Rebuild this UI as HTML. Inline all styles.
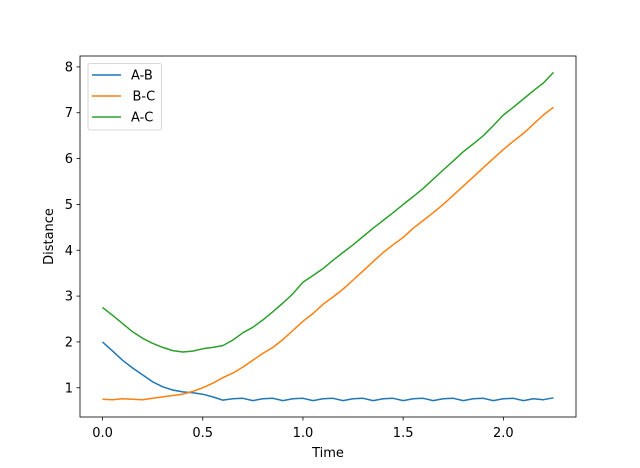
<!DOCTYPE html>
<html><head><meta charset="utf-8"><style>
body{margin:0;background:#fff;}
svg{display:block;font-family:"DejaVu Sans","Liberation Sans",sans-serif;}
</style></head><body>
<svg id="c" width="640" height="468"></svg>
<script>
const times=[0,0.05,0.1,0.15,0.2,0.25,0.3,0.35,0.4,0.45,0.5,0.55,0.6,0.65,0.7,0.75,0.8,0.85,0.9,0.95,1.0,1.05,1.1,1.15,1.2,1.25,1.3,1.35,1.4,1.45,1.5,1.55,1.6,1.65,1.7,1.75,1.8,1.85,1.9,1.95,2.0,2.05,2.1,2.15,2.2,2.25];
const abVals=[2.0,1.8,1.6,1.43,1.28,1.13,1.02,0.95,0.91,0.89,0.86,0.8,0.73,0.76,0.77,0.72,0.76,0.77,0.72,0.76,0.77,0.72,0.76,0.77,0.72,0.76,0.77,0.72,0.76,0.77,0.72,0.76,0.77,0.72,0.76,0.77,0.72,0.76,0.77,0.72,0.76,0.77,0.72,0.76,0.74,0.78];
const bcVals=[0.75,0.74,0.76,0.75,0.74,0.77,0.8,0.83,0.86,0.92,1.0,1.1,1.22,1.32,1.45,1.6,1.75,1.88,2.05,2.25,2.45,2.62,2.82,2.98,3.15,3.35,3.55,3.75,3.95,4.12,4.28,4.48,4.65,4.82,5.0,5.2,5.4,5.6,5.8,6.0,6.2,6.38,6.55,6.75,6.95,7.12];
const acVals=[2.75,2.58,2.4,2.22,2.08,1.97,1.88,1.81,1.78,1.8,1.85,1.88,1.92,2.04,2.2,2.32,2.48,2.66,2.85,3.05,3.3,3.45,3.6,3.78,3.95,4.12,4.3,4.48,4.65,4.82,5.0,5.17,5.35,5.55,5.75,5.95,6.15,6.32,6.5,6.72,6.95,7.12,7.3,7.48,7.65,7.88];
const xTicks=[0.0,0.5,1.0,1.5,2.0];
const xTickLabels=["0.0","0.5","1.0","1.5","2.0"];
const yTicks=[1,2,3,4,5,6,7,8];
const seriesNames=["A-B","B-C","A-C"];
const colors=["#1f77b4","#ff7f0e","#2ca02c"];
const L=80,R=576,T=56,B=417;
const allY=abVals.concat(bcVals,acVals);
const ymin=Math.min(...allY),ymax=Math.max(...allY),yp=(ymax-ymin)*0.05;
const xmin=Math.min(...times),xmax=Math.max(...times),xp=(xmax-xmin)*0.05;
const X=v=>L+(v-(xmin-xp))/((xmax+xp)-(xmin-xp))*(R-L);
const Y=v=>B-(v-(ymin-yp))/((ymax+yp)-(ymin-yp))*(B-T);
const svg=document.getElementById('c');
const NS='http://www.w3.org/2000/svg';
function mk(t,a,p){const e=document.createElementNS(NS,t);for(const k in a)e.setAttribute(k,a[k]);(p||svg).appendChild(e);return e;}
[abVals,bcVals,acVals].forEach((vals,i)=>{
 const p=mk('polyline',{points:times.map((t,j)=>X(t).toFixed(1)+','+Y(vals[j]).toFixed(1)).join(' '),fill:'none',stroke:colors[i],'stroke-width':1.5,'stroke-linejoin':'round'});
 
 
});
const fr=mk('rect',{x:L,y:T,width:R-L,height:B-T,fill:'none',stroke:'#000','stroke-width':0.8});


xTicks.forEach((v,i)=>{
 mk('line',{x1:X(v),x2:X(v),y1:B,y2:B+3.5,stroke:'#000','stroke-width':0.8});
 const t=mk('text',{x:X(v),y:B+20,'text-anchor':'middle','font-size':13});t.textContent=xTickLabels[i];
 
 
});
yTicks.forEach(v=>{
 mk('line',{x1:L-3.5,x2:L,y1:Y(v),y2:Y(v),stroke:'#000','stroke-width':0.8});
 const t=mk('text',{x:L-7,y:Y(v)+4.5,'text-anchor':'end','font-size':13});t.textContent=v;
 
 
});
const xt=mk('text',{x:(L+R)/2,y:B+40,'text-anchor':'middle','font-size':13});xt.textContent='Time';


const yt=mk('text',{x:0,y:0,'text-anchor':'middle','font-size':13,transform:'translate(53,'+((T+B)/2)+') rotate(-90)'});yt.textContent='Distance';


const lg=mk('g',{});


mk('rect',{x:88,y:63.5,width:73.5,height:66.5,rx:2,fill:'#fff','fill-opacity':0.8,stroke:'#ccc','stroke-width':0.8},lg);
seriesNames.forEach((n,i)=>{
 const y=75+i*21;
 mk('line',{x1:92,x2:121,y1:y,y2:y,stroke:colors[i],'stroke-width':1.5},lg);
 const t=mk('text',{x:131+(i==1?1.5:0),y:y+4.5,'font-size':13},lg);t.textContent=n;
 
 
});
</script>
</body></html>
